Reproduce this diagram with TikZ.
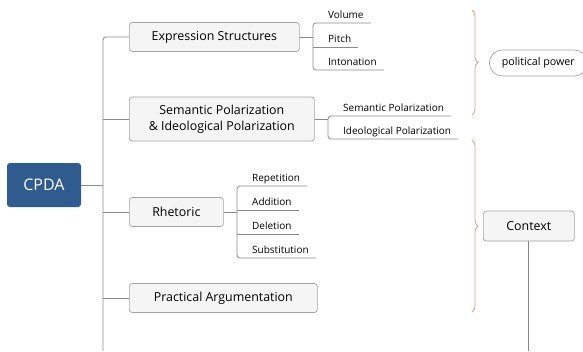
\documentclass[tikz,border=0pt]{standalone}
\usepackage{fontspec}
\setmainfont{Open Sans}
\usetikzlibrary{positioning,calc,decorations.pathreplacing}
\definecolor{bleuRacine}{HTML}{2F5B8E}
\definecolor{grisTrait}{HTML}{8A8A8A}
\definecolor{grisBord}{HTML}{A3A3A3}
\definecolor{grisFond}{HTML}{F5F5F5}
\definecolor{brunAccolade}{HTML}{C9A88F}

\begin{document}
\begin{tikzpicture}[x=1pt,y=-1pt]
\tikzstyle{trait}=[draw=grisTrait,line width=0.8pt]
\tikzstyle{racine}=[fill=bleuRacine,rounded corners=3pt,minimum width=74pt,minimum height=44pt,text=white,font=\fontsize{16}{18}\selectfont]
\tikzstyle{boite}=[draw=grisBord,fill=grisFond,rounded corners=3pt,line width=0.7pt,minimum height=29pt,anchor=west,inner sep=2pt,font=\fontsize{12.4}{16}\selectfont]
\tikzstyle{feuille}=[anchor=south west,inner xsep=7pt,inner ysep=2.5pt,text height=7.5pt,text depth=2pt,font=\fontsize{10}{12}\selectfont]
\tikzstyle{accolade}=[draw=brunAccolade,line width=0.8pt,decorate,decoration={brace,amplitude=6pt}]
\def\Tronc{103}
\def\BasImage{351}
\path[use as bounding box,clip] (0,0) rectangle (583,351);
\coordinate (Bas) at (\Tronc,\BasImage);
% racine et branches principales
\node[racine] (R) at (44,185) {CPDA};
\node[boite,minimum width=170pt] (Ra) at (129,37) {Expression Structures};
\node[boite,minimum width=185pt,minimum height=44pt,align=center] (Rb) at (129,119) {Semantic Polarization\\\& Ideological Polarization};
\node[boite,minimum width=94pt] (Rc) at (129,212) {Rhetoric};
\node[boite,minimum width=188pt] (Rd) at (129,298) {Practical Argumentation};
% points de rattachement des feuilles
\coordinate (Ca) at (313,37);
\coordinate (Cb) at (328,119);
\coordinate (Cc) at (237,212);
\node[feuille] (Raa) at (321,23) {Volume};
\node[feuille] (Rab) at (321,47) {Pitch};
\node[feuille] (Rac) at (321,70) {Intonation};
\node[feuille] (Rba) at (336,116) {Semantic Polarization};
\node[feuille] (Rbb) at (336,139) {Ideological Polarization};
\node[feuille] (Rca) at (245,186) {Repetition};
\node[feuille] (Rcb) at (245,210) {Addition};
\node[feuille] (Rcc) at (245,234) {Deletion};
\node[feuille] (Rcd) at (245,258) {Substitution};
% cote droit
\node[boite,fill=white,rounded corners=13pt,minimum width=98pt,minimum height=26pt,font=\fontsize{10.7}{12}\selectfont] (P) at (489,63) {political power};
\node[boite,minimum width=91pt,minimum height=30pt] (Ctx) at (483,226) {Context};
\coordinate (Aa) at (472,10);
\coordinate (Ab) at (472,115);
\coordinate (Ba) at (472,140);
\coordinate (Bb) at (472,312);
% traits
\draw[trait,rounded corners=3pt] (Ra.west) -| (Bas);
\draw[trait] (R.east) -- (R.east -| Bas);
\draw[trait] (Rb.west) -- (Rb.west -| Bas);
\draw[trait] (Rc.west) -- (Rc.west -| Bas);
\draw[trait] (Rd.west) -- (Rd.west -| Bas);
\draw[trait] (Ra.east) -- (Ca);
\draw[trait,rounded corners=3pt] (Raa.south east) -- (Raa.south -| Ca) -- (Rac.south -| Ca) -- (Rac.south east);
\draw[trait] (Rab.south east) -- (Rab.south -| Ca);
\draw[trait] (Rb.east) -- (Cb);
\draw[trait,rounded corners=3pt] (Rba.south east) -- (Rba.south -| Cb) -- (Rbb.south -| Cb) -- (Rbb.south east);
\draw[trait] (Rc.east) -- (Cc);
\draw[trait,rounded corners=3pt] (Rca.south east) -- (Rca.south -| Cc) -- (Rcd.south -| Cc) -- (Rcd.south east);
\draw[trait] (Rcb.south east) -- (Rcb.south -| Cc);
\draw[trait] (Rcc.south east) -- (Rcc.south -| Cc);
\draw[trait] (Ctx.south) -- (Ctx.south |- Bas);
\draw[accolade] (Aa) -- (Ab);
\draw[accolade] (Ba) -- (Bb);
\end{tikzpicture}
\end{document}
